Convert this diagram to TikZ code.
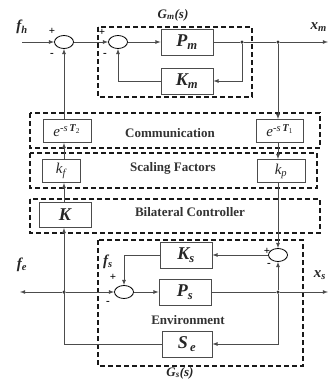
\documentclass[tikz,border=0pt]{standalone}
\usepackage{fontspec}
\setmainfont{Liberation Serif}
\usetikzlibrary{shapes.geometric}
\usetikzlibrary{arrows.meta}
\tikzset{
    block/.style = {rectangle, draw=black!70, line width=0.8pt, minimum width=52pt, minimum height=26pt, inner sep=0pt, text=black!85, font=\fontsize{18}{18}\selectfont\bfseries\itshape},
    sblock/.style = {rectangle, draw=black!70, line width=0.8pt, minimum height=23pt, inner sep=0pt, text=black!85, font=\fontsize{15}{15}\selectfont\itshape},
    sumnode/.style = {ellipse, draw=black, line width=0.8pt, minimum width=19pt, minimum height=13pt, inner sep=0pt},
    jdot/.style = {circle, fill=black!80, inner sep=0pt, minimum size=3.5pt},
    dashbox/.style = {draw=black!90, line width=1.5pt, dash pattern=on 5pt off 3pt},
    edgen/.style = {-latex, line width=0.8pt, draw=black!70},
    wire/.style = {line width=0.8pt, draw=black!70},
    sign/.style = {font=\fontsize{11}{11}\selectfont\bfseries},
    lbl/.style = {text=black!80, font=\fontsize{13}{13}\selectfont\bfseries},
    var/.style = {text=black!85, font=\fontsize{15}{15}\selectfont\bfseries\itshape},
    title/.style = {text=black!85, font=\fontsize{13}{13}\selectfont\bfseries\itshape},
}

\begin{document}
\begin{tikzpicture}[x=1pt,y=-1pt]
\useasboundingbox (0,0) rectangle (328,381);

% master
\draw[dashbox] (98,27) rectangle (252,97);
\node[sumnode] (s1) at (64,42) {};
\node[sumnode] (s2) at (118,42) {};
\node[block] (pm) at (187,42) {P\textsubscript{m}};
\node[block] (km) at (187,81) {K\textsubscript{m}};
\node[jdot] (j1) at (242,42) {};
\node[jdot] (j2) at (278,42) {};
\coordinate (fh) at (22,42);
\coordinate (xm) at (328,42);
\node[var] at (22,27) {f\textsubscript{h}};
\node[var, anchor=east, inner sep=1pt] at (328,27) {x\textsubscript{m}};
\node[title] at (173,15) {G\textsubscript{m}(s)};
\node[sign] at (52,31) {+};
\node[sign] at (52,55) {-};
\node[sign] at (102,32) {+};
\node[sign] at (105,55) {-};
%
\draw[edgen] (fh) -- (s1);
\draw[edgen] (s1) -- (s2);
\draw[edgen] (s2) -- (pm);
\draw[wire] (pm) -- (j1);
\draw[edgen] (j1) |- (km);
\draw[edgen] (km) -| (s2);
\draw[wire] (j1) -- (j2);
\draw[edgen] (j2) -- (xm);

% communication
\draw[dashbox] (30,113) rectangle (320,148);
\node[sblock, minimum width=48pt] (et2) at (67,131) {e\textsuperscript{\upshape-\itshape s\,\textbf{T}\textsubscript{\upshape 2}}};
\node[sblock, minimum width=47pt] (et1) at (280,131) {e\textsuperscript{\upshape-\itshape s\,\textbf{T}\textsubscript{\upshape 1}}};
\node[lbl] at (170,133) {Communication};
\draw[edgen] (j2) -- (et1.north -| j2);
\draw[edgen] (et2.north -| s1) -- (s1);

% scaling factors
\draw[dashbox] (30,153) rectangle (317,188);
\node[sblock, minimum width=38pt] (kf) at (61,171) {k\textsubscript{f}};
\node[sblock, minimum width=48pt] (kp) at (281,171) {k\textsubscript{p}};
\node[lbl] at (173,168) {Scaling Factors};
\draw[edgen] (kf.north -| s1) -- (et2.south -| s1);
\draw[edgen] (et1.south -| j2) -- (kp.north -| j2);

% bilateral controller
\draw[dashbox] (30,199) rectangle (320,233);
\node[block, minimum height=25pt] (k) at (65,215) {K};
\node[lbl] at (190,212) {Bilateral Controller};
\draw[edgen] (k.north -| s1) -- (kf.south -| s1);

% slave
\draw[dashbox] (98,240) rectangle (303,366);
\node[block] (ks) at (186,255) {K\textsubscript{s}};
\node[sumnode] (s3) at (278,255) {};
\node[sumnode] (s4) at (124,292) {};
\node[block] (ps) at (185,292) {P\textsubscript{s}};
\node[block, minimum width=50pt] (se) at (187,344) {S\textsubscript{\,e}};
\node[jdot] (j3) at (64,292) {};
\node[jdot] (j4) at (278,292) {};
\coordinate (fe) at (20,292);
\coordinate (xs) at (328,292);
\node[var] at (108,262) {f\textsubscript{s}};
\node[var] at (22,265) {f\textsubscript{e}};
\node[var] at (320,275) {x\textsubscript{s}};
\node[lbl] at (188,320) {Environment};
\node[title] at (180,373) {G\textsubscript{s}(s)};
\node[sign] at (267,251) {+};
\node[sign] at (269,265) {-};
\node[sign] at (113,277) {+};
\node[sign] at (108,303) {-};
%
\draw[edgen] (kp.south -| j2) -- (s3);
\draw[edgen] (s3) -- (ks);
\draw[edgen] (ks) -| (s4);
\draw[edgen] (j3) -- (s4);
\draw[edgen] (j3) -- (fe);
\draw[edgen] (s4) -- (ps);
\draw[wire] (ps) -- (j4);
\draw[edgen] (j4) -- (xs);
\draw[edgen] (j4) -- (s3);
\draw[edgen] (j4) |- (se);
\draw[edgen] (se) -| (k.south -| s1);

\end{tikzpicture}
\end{document}
